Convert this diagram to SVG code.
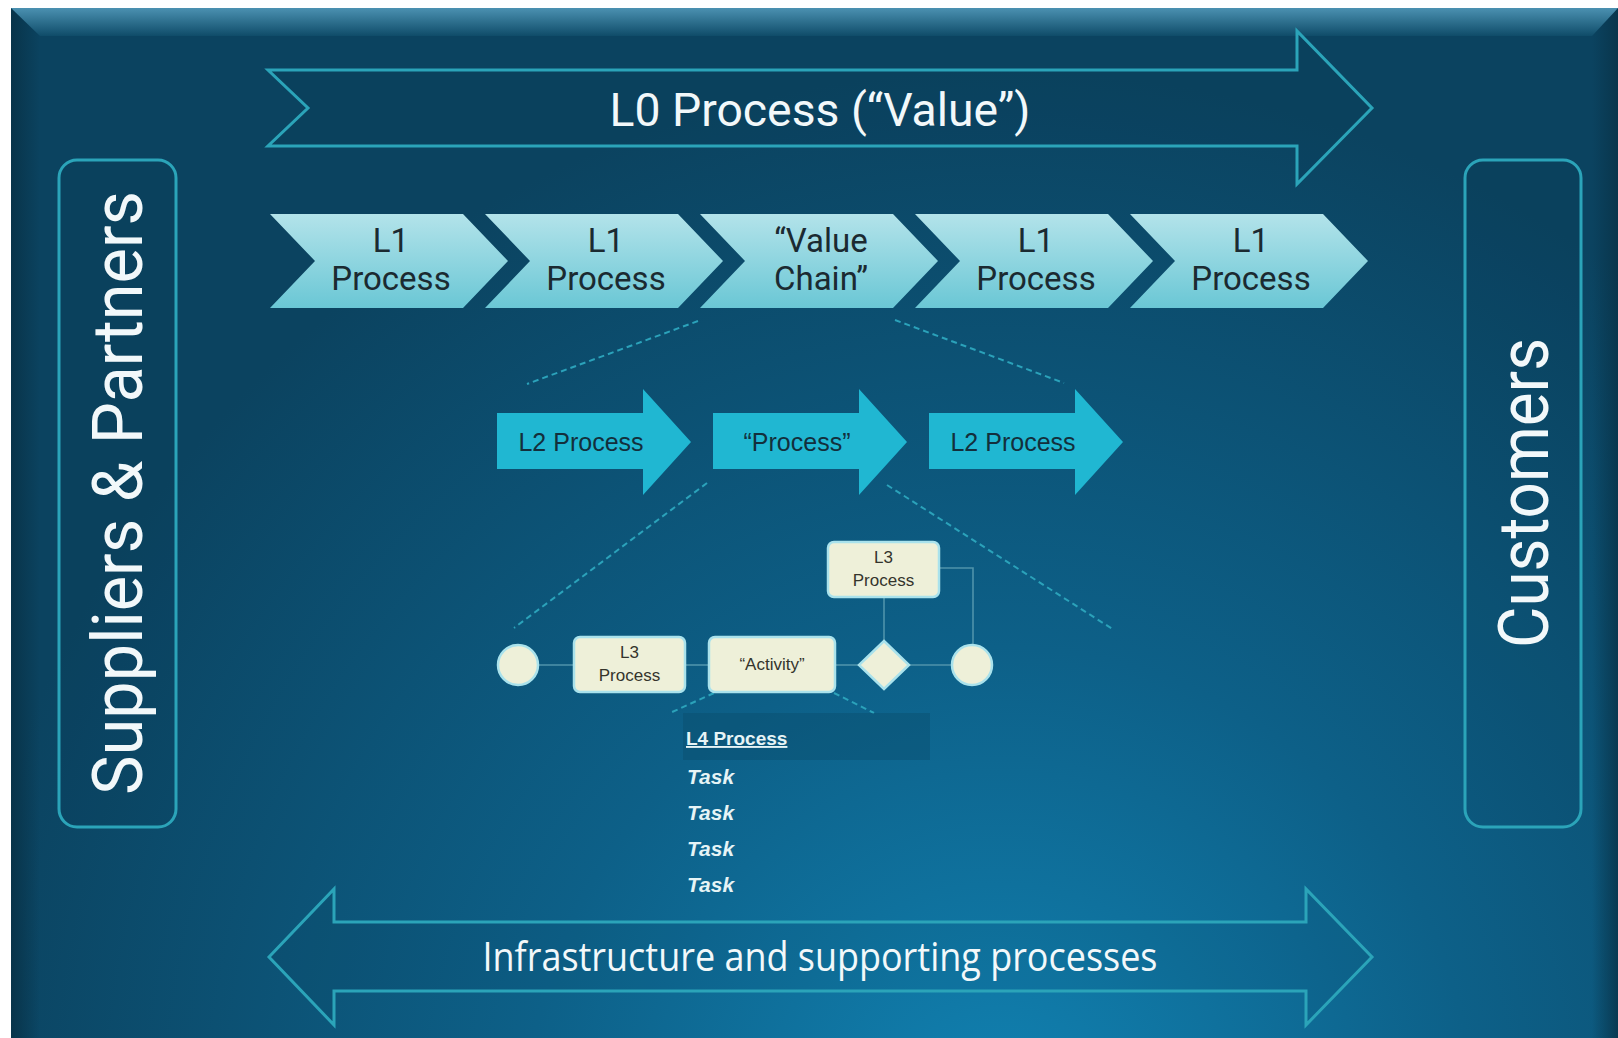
<svg xmlns="http://www.w3.org/2000/svg" width="1618" height="1038" viewBox="0 0 1618 1038">
  <defs>
    <radialGradient id="bgGrad" gradientUnits="userSpaceOnUse" cx="1000" cy="1120" r="1050">
      <stop offset="0" stop-color="#1182b2"/>
      <stop offset="0.45" stop-color="#0d6088"/>
      <stop offset="1" stop-color="#0b4360"/>
    </radialGradient>
    <linearGradient id="topBevel" x1="0" y1="0" x2="0" y2="1">
      <stop offset="0" stop-color="#4b91b1"/>
      <stop offset="1" stop-color="#0f4c69"/>
    </linearGradient>
    <linearGradient id="leftBevel" x1="0" y1="0" x2="1" y2="0">
      <stop offset="0" stop-color="#083247" stop-opacity="0.9"/>
      <stop offset="1" stop-color="#083247" stop-opacity="0"/>
    </linearGradient>
    <linearGradient id="rightBevel" x1="1" y1="0" x2="0" y2="0">
      <stop offset="0" stop-color="#083247" stop-opacity="0.8"/>
      <stop offset="1" stop-color="#083247" stop-opacity="0"/>
    </linearGradient>
    <linearGradient id="chevGrad" x1="0" y1="0" x2="0" y2="1">
      <stop offset="0" stop-color="#b3e3ea"/>
      <stop offset="1" stop-color="#6ac7d5"/>
    </linearGradient>
    <style>
      .outline { fill: rgba(4, 30, 45, 0.06); stroke: #2ba4b9; stroke-width: 3; stroke-linejoin: miter; }
      .sideText { font-family: Roboto, "Liberation Sans", sans-serif; font-size: 70px; fill: #f2f8fa; }
      .chev { fill: url(#chevGrad); }
      .chevText { font-family: Roboto, "Liberation Sans", sans-serif; font-size: 33px; fill: #1b2a31; text-anchor: middle; }
      .l2 { fill: #20b7d2; }
      .l2Text { font-family: "Liberation Sans", Arial, sans-serif; font-size: 25px; fill: #132f3c; text-anchor: middle; }
      .card { fill: #eef0d9; stroke: #a9e2ec; stroke-width: 2.5; }
      .cardText { font-family: "Liberation Sans", Arial, sans-serif; font-size: 17px; fill: #34342c; text-anchor: middle; }
      .dash { stroke: #2ba2ba; stroke-width: 2; stroke-dasharray: 6 4; fill: none; }
      .flow { stroke: #4f93ab; stroke-width: 1.6; fill: none; }
      .task { font-family: "Liberation Sans", Arial, sans-serif; font-size: 21px; font-weight: bold; font-style: italic; fill: #e6f4f6; }
    </style>
  </defs>

  <!-- page and bevelled panel -->
  <rect x="0" y="0" width="1618" height="1038" fill="#ffffff"/>
  <rect x="11" y="8" width="1607" height="1030" fill="url(#bgGrad)"/>
  <polygon points="11,8 40,36 40,1038 11,1038" fill="url(#leftBevel)"/>
  <polygon points="1618,8 1592,36 1592,1038 1618,1038" fill="url(#rightBevel)"/>
  <polygon points="11,8 1618,8 1592,36 40,36" fill="url(#topBevel)"/>

  <!-- L0 value arrow -->
  <g id="l0-arrow">
    <polygon class="outline" points="268,70 1297,70 1297,31 1372,108 1297,184 1297,146 268,146 308,108"/>
    <text x="820" y="126" font-family="Roboto, 'Liberation Sans', sans-serif" font-size="47" fill="#f2f8fa" text-anchor="middle" textLength="421" lengthAdjust="spacingAndGlyphs">L0 Process (“Value”)</text>
  </g>

  <!-- side boxes -->
  <g id="suppliers">
    <rect class="outline" x="59" y="160" width="117" height="667" rx="18"/>
    <text class="sideText" transform="translate(142,493) rotate(-90)" text-anchor="middle" textLength="604" lengthAdjust="spacingAndGlyphs">Suppliers &amp; Partners</text>
  </g>
  <g id="customers">
    <rect class="outline" x="1465" y="160" width="116" height="667" rx="18"/>
    <text class="sideText" transform="translate(1548,493) rotate(-90)" text-anchor="middle" textLength="310" lengthAdjust="spacingAndGlyphs">Customers</text>
  </g>

  <!-- L1 chevrons -->
  <g id="l1-1">
    <polygon class="chev" points="270,214 463,214 508,261 463,308 270,308 315,261"/>
    <text class="chevText" x="391" y="252">L1</text>
    <text class="chevText" x="391" y="290">Process</text>
  </g>
  <g id="l1-2">
    <polygon class="chev" points="485,214 678,214 723,261 678,308 485,308 530,261"/>
    <text class="chevText" x="606" y="252">L1</text>
    <text class="chevText" x="606" y="290">Process</text>
  </g>
  <g id="l1-value-chain">
    <polygon class="chev" points="700,214 893,214 938,261 893,308 700,308 745,261"/>
    <text class="chevText" x="821" y="252">“Value</text>
    <text class="chevText" x="821" y="290">Chain”</text>
  </g>
  <g id="l1-4">
    <polygon class="chev" points="915,214 1108,214 1153,261 1108,308 915,308 960,261"/>
    <text class="chevText" x="1036" y="252">L1</text>
    <text class="chevText" x="1036" y="290">Process</text>
  </g>
  <g id="l1-5">
    <polygon class="chev" points="1130,214 1323,214 1368,261 1323,308 1130,308 1175,261"/>
    <text class="chevText" x="1251" y="252">L1</text>
    <text class="chevText" x="1251" y="290">Process</text>
  </g>

  <!-- L2 block arrows -->
  <g id="l2-1">
    <polygon class="l2" points="497,413 643,413 643,389 691,442 643,495 643,469 497,469"/>
    <text class="l2Text" x="581" y="451">L2 Process</text>
  </g>
  <g id="l2-process">
    <polygon class="l2" points="713,413 859,413 859,389 907,442 859,495 859,469 713,469"/>
    <text class="l2Text" x="797" y="451">“Process”</text>
  </g>
  <g id="l2-3">
    <polygon class="l2" points="929,413 1075,413 1075,389 1123,442 1075,495 1075,469 929,469"/>
    <text class="l2Text" x="1013" y="451">L2 Process</text>
  </g>

  <!-- connectors: zoom-in guides and L3 flow -->
  <g id="connectors">
    <line class="dash" x1="698" y1="321" x2="527" y2="384"/>
    <line class="dash" x1="895" y1="320" x2="1064" y2="383"/>
    <line class="dash" x1="707" y1="483" x2="514" y2="628"/>
    <line class="dash" x1="887" y1="485" x2="1114" y2="630"/>
    <line class="dash" x1="714" y1="693" x2="670" y2="713"/>
    <line class="dash" x1="834" y1="693" x2="874" y2="713"/>
    <line class="flow" x1="539" y1="665" x2="574" y2="665"/>
    <line class="flow" x1="685" y1="665" x2="709" y2="665"/>
    <line class="flow" x1="835" y1="665" x2="859" y2="665"/>
    <line class="flow" x1="909" y1="665" x2="951" y2="665"/>
    <line class="flow" x1="884" y1="597" x2="884" y2="641"/>
    <polyline class="flow" points="939,568 973,568 973,645"/>
  </g>

  <!-- L3 flow -->
  <g id="l3-start">
    <circle class="card" cx="518" cy="665" r="20"/>
  </g>
  <g id="l3-process-1">
    <rect class="card" x="574" y="637" width="111" height="55" rx="6"/>
    <text class="cardText" x="629.5" y="658">L3</text>
    <text class="cardText" x="629.5" y="681">Process</text>
  </g>
  <g id="l3-activity">
    <rect class="card" x="709" y="637" width="126" height="55" rx="6"/>
    <text class="cardText" x="772" y="670">“Activity”</text>
  </g>
  <g id="l3-gateway">
    <polygon class="card" points="884,641 909,665 884,689 859,665"/>
  </g>
  <g id="l3-process-2">
    <rect class="card" x="828" y="542" width="111" height="55" rx="6"/>
    <text class="cardText" x="883.5" y="563">L3</text>
    <text class="cardText" x="883.5" y="586">Process</text>
  </g>
  <g id="l3-end">
    <circle class="card" cx="972" cy="665" r="20"/>
  </g>

  <!-- L4 task list -->
  <g id="l4">
    <rect x="683" y="713" width="247" height="47" fill="#0a4c69" opacity="0.4"/>
    <text x="686" y="745" font-family="'Liberation Sans', Arial, sans-serif" font-size="19" font-weight="bold" fill="#e6f4f6" text-decoration="underline">L4 Process</text>
    <text class="task" x="687" y="784">Task</text>
    <text class="task" x="687" y="820">Task</text>
    <text class="task" x="687" y="856">Task</text>
    <text class="task" x="687" y="892">Task</text>
  </g>

  <!-- supporting processes double arrow -->
  <g id="infrastructure">
    <polygon class="outline" points="269,957 334,889 334,922 1306,922 1306,889 1372,957 1306,1025 1306,991 334,991 334,1025"/>
    <text x="820" y="971" font-family="'Open Sans', 'Liberation Sans', sans-serif" font-size="40" fill="#f2f8fa" text-anchor="middle" textLength="675" lengthAdjust="spacingAndGlyphs">Infrastructure and supporting processes</text>
  </g>
</svg>
